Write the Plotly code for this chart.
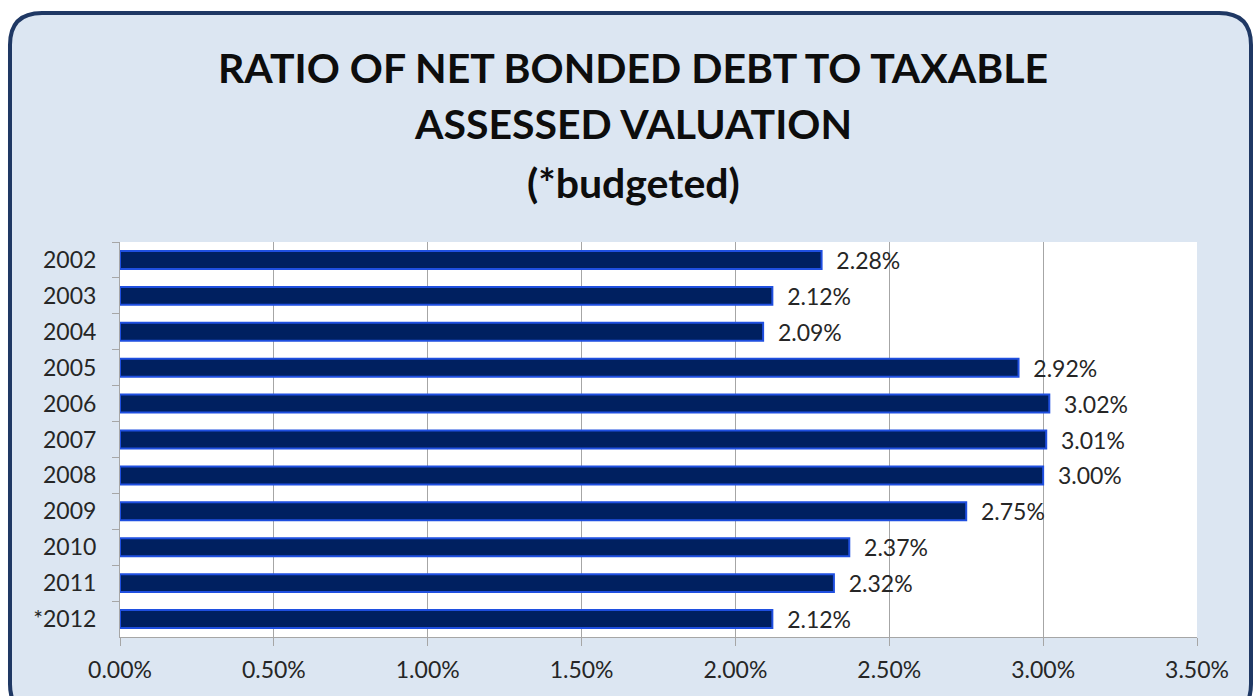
import plotly.graph_objects as go

# Ratio of net bonded debt to taxable assessed valuation, by fiscal year
years = ["2002", "2003", "2004", "2005", "2006", "2007", "2008", "2009", "2010", "2011", "*2012"]
ratios = [2.28, 2.12, 2.09, 2.92, 3.02, 3.01, 3.00, 2.75, 2.37, 2.32, 2.12]

x_ticks = [0.0, 0.5, 1.0, 1.5, 2.0, 2.5, 3.0, 3.5]
x_tick_text = [f"{v:.2f}%" for v in x_ticks]

title_lines = ["RATIO OF NET BONDED DEBT TO TAXABLE", "ASSESSED VALUATION", "(*budgeted)"]

W, H = 1258, 696
M_L, M_R, M_T, M_B = 120, 61, 242, 59
PW, PH = W - M_L - M_R, H - M_T - M_B

FONT = "Lato, 'Open Sans', sans-serif"
TEXT = "#262626"


def px_to_paper(px, py):
    return (px - M_L) / PW, 1 - (py - M_T) / PH


def rounded_rect(x0, y0, x1, y1, r):
    """SVG path in paper coords for a rounded rectangle given in pixels."""

    def p(x, y):
        a, b = px_to_paper(x, y)
        return f"{a:.5f},{b:.5f}"

    return (
        f"M {p(x0 + r, y0)} L {p(x1 - r, y0)} Q {p(x1, y0)} {p(x1, y0 + r)} "
        f"L {p(x1, y1 - r)} Q {p(x1, y1)} {p(x1 - r, y1)} "
        f"L {p(x0 + r, y1)} Q {p(x0, y1)} {p(x0, y1 - r)} "
        f"L {p(x0, y0 + r)} Q {p(x0, y0)} {p(x0 + r, y0)} Z"
    )


fig = go.Figure(
    go.Bar(
        x=ratios,
        y=years,
        orientation="h",
        marker=dict(color="#002060", line=dict(color="#1f4fe0", width=2)),
        text=[f"{v:.2f}%" for v in ratios],
        texttemplate="  %{text}",
        textposition="outside",
        constraintext="none",
        textfont=dict(family=FONT, size=23, color=TEXT),
        cliponaxis=False,
        hoverinfo="skip",
    )
)

frame_path = rounded_rect(10, 13, 1251, 716, 32)
px0, py0 = px_to_paper(M_L, M_T)
px1, py1 = px_to_paper(M_L + PW, M_T + PH)

title_y = [67, 124, 182]
annotations = [
    dict(
        text=line,
        xref="paper", yref="paper",
        x=px_to_paper(633, 0)[0], y=px_to_paper(0, ty)[1],
        xanchor="center", yanchor="middle",
        showarrow=False,
        font=dict(family=FONT, size=41, color="#0d0d0d", weight="bold"),
    )
    for line, ty in zip(title_lines, title_y)
]

fig.update_layout(
    width=W,
    height=H,
    margin=dict(l=M_L, r=M_R, t=M_T, b=M_B),
    paper_bgcolor="white",
    plot_bgcolor="rgba(0,0,0,0)",
    showlegend=False,
    bargap=0.5,
    shapes=[
        dict(type="path", path=frame_path, xref="paper", yref="paper",
             fillcolor="#dce6f2", line=dict(color="#1f3864", width=4), layer="below"),
        dict(type="rect", xref="paper", yref="paper", x0=px0, y0=py0, x1=px1, y1=py1,
             fillcolor="white", line=dict(width=0), layer="below"),
    ],
    annotations=annotations,
    xaxis=dict(
        range=[0, 3.5],
        tickvals=x_ticks,
        ticktext=x_tick_text,
        showgrid=True,
        gridcolor="#a6a6a6",
        gridwidth=1,
        showline=True,
        linecolor="#a6a6a6",
        linewidth=1,
        ticks="outside",
        ticklen=8,
        tickcolor="#a6a6a6",
        tickfont=dict(family=FONT, size=23, color=TEXT),
        ticklabelstandoff=4,
        zeroline=False,
        fixedrange=True,
    ),
    yaxis=dict(
        autorange="reversed",
        showline=True,
        linecolor="#a6a6a6",
        linewidth=1,
        ticks="outside",
        tickson="boundaries",
        ticklen=7,
        tickcolor="#a6a6a6",
        tickfont=dict(family=FONT, size=23, color=TEXT),
        ticklabelstandoff=18,
        showgrid=False,
        fixedrange=True,
    ),
)

fig.write_html("out.html")
